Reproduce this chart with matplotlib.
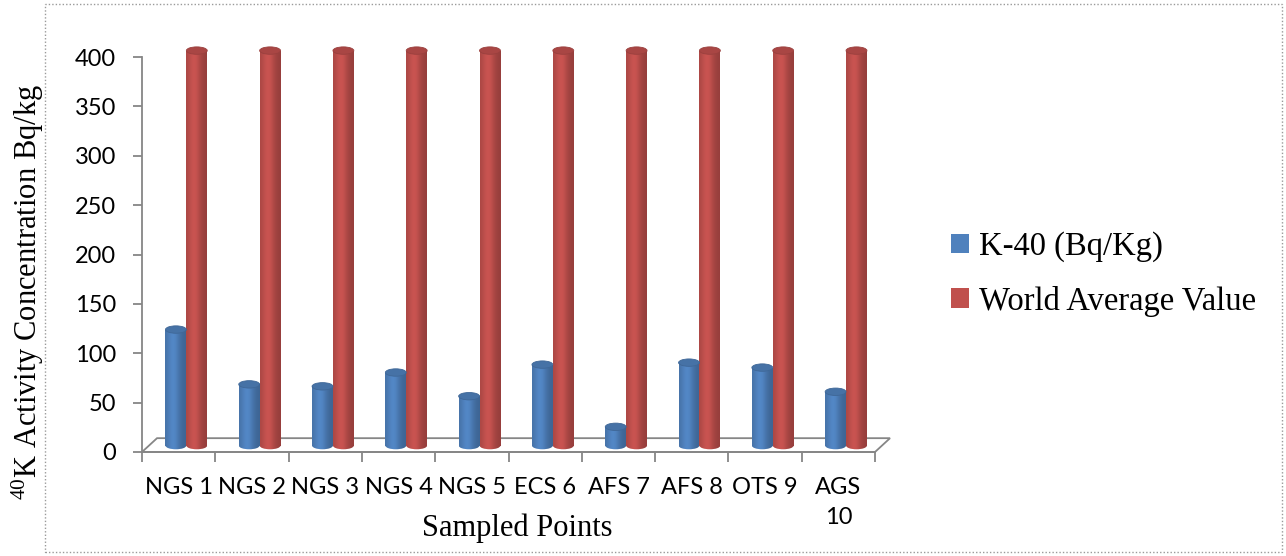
import numpy as np
import matplotlib
matplotlib.use("Agg")
import matplotlib.pyplot as plt
from matplotlib.patches import Ellipse, Polygon, Rectangle
from matplotlib.colors import to_rgb

# ---- data ----
categories = ["NGS 1", "NGS 2", "NGS 3", "NGS 4", "NGS 5",
              "ECS 6", "AFS 7", "AFS 8", "OTS 9", "AGS\n10"]
k40 = [117.5, 62, 60, 74, 50, 82, 19, 84, 79, 54.5]
world_avg = [400, 400, 400, 400, 400, 400, 400, 400, 400, 400]
series_names = ["K-40 (Bq/Kg)", "World Average Value"]
yticks = [0, 50, 100, 150, 200, 250, 300, 350, 400]

# ---- style ----
W, H = 1286, 556
plt.rcParams['mathtext.fontset'] = 'custom'
plt.rcParams['mathtext.rm'] = 'Liberation Serif'
plt.rcParams['mathtext.it'] = 'Liberation Serif:italic'
TICK_FONT = "Lato"
SERIF = "Liberation Serif"
BLUE = "#4F81BD"
RED = "#C0504D"
AXIS_GRAY = "#868686"
BAR_W = 0.285
DX = 0.105           # depth shift of the bar row (x, category units)
DY = 6.5             # depth shift of the bar row (y, value units)
CAP_H = 7.5          # ellipse cap height in value units
FLOOR_DX = 0.205
FLOOR_DY = 14

fig = plt.figure(figsize=(W / 100, H / 100), dpi=100)
ax = fig.add_axes([142 / W, (H - 452) / H, (875 - 142) / W, (452 - 57) / H])
ax.set_xlim(-0.5, len(categories) - 0.5)
ax.set_ylim(0, 400)


def shade(base, n=64):
    c = np.array(to_rgb(base))
    t = np.linspace(0, 1, n)
    f = 0.86 + 0.22 * np.exp(-((t - 0.4) / 0.3) ** 2) - 0.08 * t
    rgb = np.clip(c[None, :] * f[:, None], 0, 1)
    return rgb[None, :, :]


def dark(base, k):
    return tuple(np.clip(np.array(to_rgb(base)) * k, 0, 1))


# floor (3D base)
n = len(categories)
floor = Polygon([[-0.5, 0], [n - 0.5, 0], [n - 0.5 + FLOOR_DX, FLOOR_DY],
                 [-0.5 + FLOOR_DX, FLOOR_DY]], closed=True,
                facecolor="white", edgecolor=AXIS_GRAY, lw=1.3,
                clip_on=False, zorder=1)
ax.add_patch(floor)

x = np.arange(n)
for vals, color, off, name in [(k40, BLUE, -BAR_W / 2, series_names[0]),
                               (world_avg, RED, BAR_W / 2, series_names[1])]:
    bars = ax.bar(x + DX + off, vals, BAR_W, bottom=DY, color=color,
                  label=name, zorder=2, clip_on=False, lw=0)
    img = shade(color)
    for b in bars:
        x0, w = b.get_x(), b.get_width()
        y0, h = b.get_y(), b.get_height()
        b.set_alpha(0)
        ell_bot = Ellipse((x0 + w / 2, y0), w, CAP_H, facecolor="none",
                          edgecolor="none", clip_on=False)
        ax.add_patch(ell_bot)
        body = Rectangle((x0, y0), w, h, facecolor="none", edgecolor="none",
                         clip_on=False)
        ax.add_patch(body)
        for clip in (body, ell_bot):
            im = ax.imshow(img, extent=[x0, x0 + w, y0 - CAP_H, y0 + h],
                           aspect="auto", interpolation="bilinear",
                           zorder=3, clip_on=True)
            im.set_clip_path(clip)
        cap = Ellipse((x0 + w / 2, y0 + h), w, CAP_H,
                      facecolor=dark(color, 0.88), edgecolor=dark(color, 0.8),
                      lw=0.6, zorder=4, clip_on=False)
        ax.add_patch(cap)

ax.set_xlim(-0.5, n - 0.5)
ax.set_ylim(0, 400)

# axes styling
for s in ["top", "right"]:
    ax.spines[s].set_visible(False)
for s in ["left", "bottom"]:
    ax.spines[s].set_color(AXIS_GRAY)
    ax.spines[s].set_linewidth(1.3)
ax.set_yticks(yticks)
ax.set_yticklabels([str(v) for v in yticks], fontsize=17, family=TICK_FONT)
ax.tick_params(axis="y", length=6.5, width=1.3, color=AXIS_GRAY, pad=12)
ax.set_xticks(np.arange(-0.5, n, 1.0), minor=True)
ax.set_xticks(x)
ax.set_xticklabels(categories, fontsize=17, family=TICK_FONT,
                   multialignment="center", va="top", linespacing=1.55)
ax.tick_params(axis="x", which="major", length=0, pad=18)
ax.tick_params(axis="x", which="minor", length=7, width=1.3, color=AXIS_GRAY)
ax.set_facecolor("none")

fig.text(517 / W, (H - 528) / H, "Sampled Points", family=SERIF, fontsize=22,
         ha="center", va="center")
fig.text(28 / W, (H - 292) / H, "$^{40}$K Activity Concentration Bq/kg",
         rotation=90, family=SERIF, fontsize=22, ha="center", va="center")

leg = ax.legend(loc="center left", bbox_to_anchor=(922 / W, 282 / H),
                bbox_transform=fig.transFigure, frameon=False,
                prop={"family": SERIF, "size": 23.5}, handlelength=0.55,
                handleheight=0.55, handletextpad=0.3, labelspacing=0.72)
for hdl, c in zip(leg.legend_handles, [BLUE, RED]):
    hdl.set_alpha(1)
    hdl.set_facecolor(c)

# dotted outer border
fig.patches.append(Rectangle((45 / W, 4 / H), 1237 / W, 548 / H,
                             transform=fig.transFigure, fill=False,
                             edgecolor="#9a9a9a", lw=1, ls=(0, (1, 1.5))))

fig.savefig("out.png", dpi=100)
